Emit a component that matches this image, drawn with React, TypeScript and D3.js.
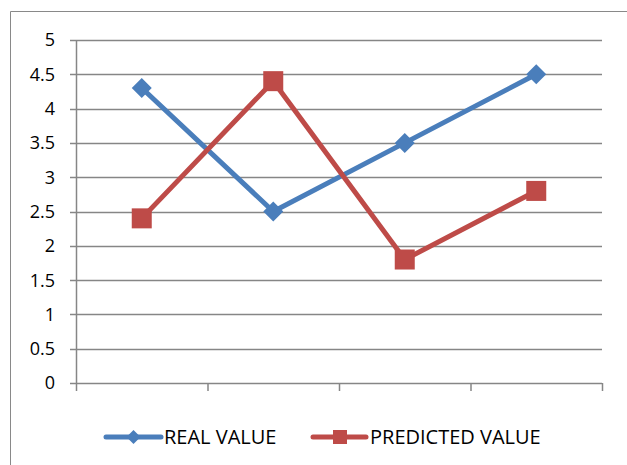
import React from "react";
import * as d3 from "d3";

const categories = ["1", "2", "3", "4"];
const realValues = [4.3, 2.5, 3.5, 4.5];
const predictedValues = [2.4, 4.4, 1.8, 2.8];
const yTicks = [0, 0.5, 1, 1.5, 2, 2.5, 3, 3.5, 4, 4.5, 5];
const seriesNames = ["REAL VALUE", "PREDICTED VALUE"];

const BLUE = "#4A7EBB";
const RED = "#BE4B48";
const GRID = "#868686";
const FONT = "'Open Sans', 'Noto Sans', sans-serif";

export default function App() {
  const W = 627, H = 465;
  const left = 76, right = 602, top = 40, bottom = 383;
  const x = d3.scaleBand().domain(categories).range([left, right]);
  const y = d3.scaleLinear().domain([0, 5]).range([bottom, top]);
  const cx = (c: string) => (x(c) as number) + x.bandwidth() / 2;
  const line = d3.line<number>().x((_, i) => cx(categories[i])).y((v) => y(v));
  const diamond = (px: number, py: number, r: number) =>
    `M${px},${py - r}L${px + r},${py}L${px},${py + r}L${px - r},${py}Z`;
  const xTickPos = [...categories.map((c) => x(c) as number), right];

  return (
    <svg width={W} height={H} style={{ position: "absolute", left: 0, top: 0 }}>
      <rect x={0} y={0} width={W} height={H} fill="#fff" />
      <path d={`M10.5,${H}L10.5,11.5L${W},11.5`} fill="none" stroke="#898989" strokeWidth={1} />
      {yTicks.map((t) => (
        <g key={t}>
          <line x1={70} x2={right} y1={Math.round(y(t)) + 0.5} y2={Math.round(y(t)) + 0.5} stroke={GRID} strokeWidth={1.5} />
          <text x={55} y={y(t)} dy="0.36em" textAnchor="end" fontFamily={FONT} fontSize={18} fill="#000">
            {t}
          </text>
        </g>
      ))}
      <line x1={left + 0.5} x2={left + 0.5} y1={top} y2={bottom} stroke={GRID} strokeWidth={1.5} />
      {xTickPos.map((p, i) => (
        <line key={i} x1={p + 0.5} x2={p + 0.5} y1={bottom} y2={bottom + 8} stroke={GRID} strokeWidth={1.5} />
      ))}
      <path d={line(realValues) || ""} fill="none" stroke={BLUE} strokeWidth={5} strokeLinejoin="round" />
      {realValues.map((v, i) => (
        <path key={i} d={diamond(cx(categories[i]), y(v), 10)} fill={BLUE} />
      ))}
      <path d={line(predictedValues) || ""} fill="none" stroke={RED} strokeWidth={5} strokeLinejoin="round" />
      {predictedValues.map((v, i) => (
        <rect key={i} x={cx(categories[i]) - 10} y={y(v) - 10} width={20} height={20} fill={RED} />
      ))}
      {/* legend */}
      <g>
        <line x1={106} x2={161} y1={437} y2={437} stroke={BLUE} strokeWidth={5} strokeLinecap="round" />
        <path d={diamond(133.5, 437, 7)} fill={BLUE} />
        <text x={164} y={437} dy="0.36em" fontFamily={FONT} fontSize={20} fill="#000">{seriesNames[0]}</text>
        <line x1={313} x2={366} y1={437} y2={437} stroke={RED} strokeWidth={5} strokeLinecap="round" />
        <rect x={333} y={430} width={14} height={14} fill={RED} />
        <text x={370} y={437} dy="0.36em" fontFamily={FONT} fontSize={20} fill="#000">{seriesNames[1]}</text>
      </g>
    </svg>
  );
}
